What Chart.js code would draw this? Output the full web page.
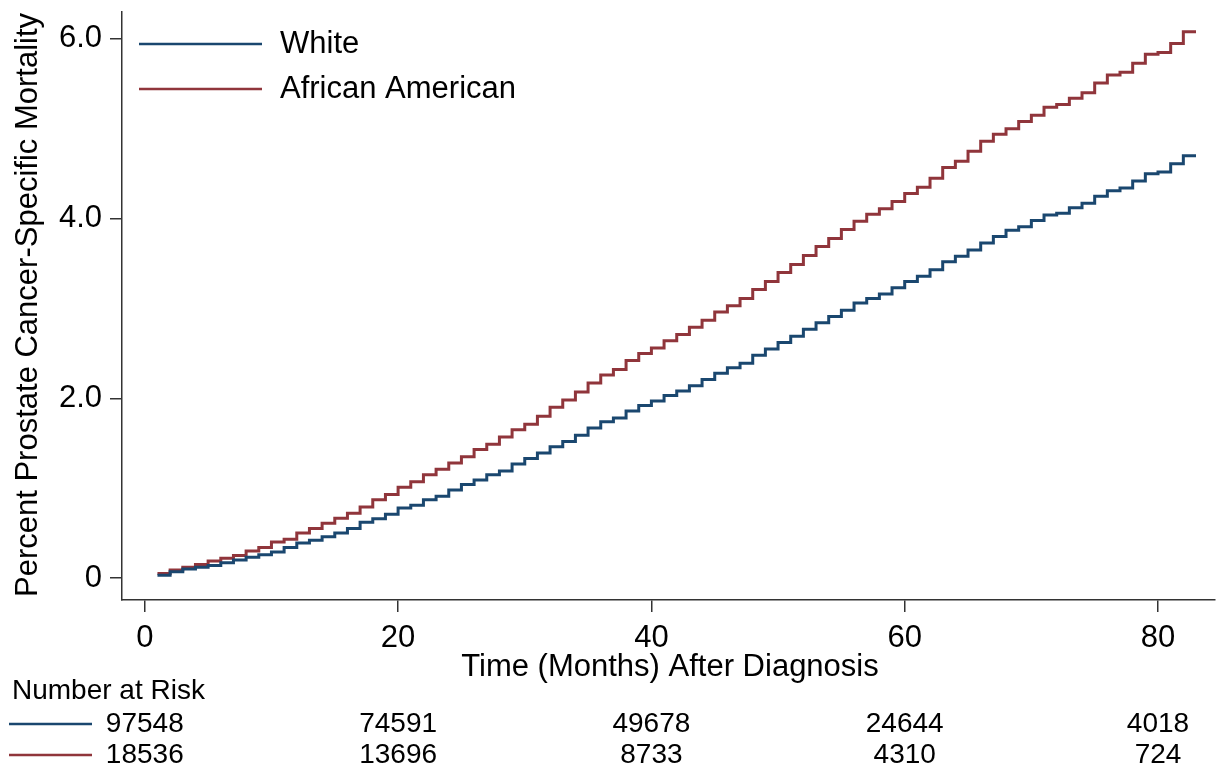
<!DOCTYPE html>
<html>
<head>
<meta charset="utf-8">
<script src="https://cdn.jsdelivr.net/npm/chart.js@4.4.1/dist/chart.umd.min.js"></script>
<style>
  html, body { margin: 0; padding: 0; background: #fff; }
  #wrap { width: 1222px; height: 775px; }
</style>
</head>
<body>
<div id="wrap"><canvas id="km" width="1222" height="775"></canvas></div>
<script>
// months after diagnosis (step times)
const months = [1, 2, 3, 4, 5, 6, 7, 8, 9, 10, 11, 12, 13, 14, 15, 16, 17, 18, 19, 20,
  21, 22, 23, 24, 25, 26, 27, 28, 29, 30, 31, 32, 33, 34, 35, 36, 37, 38, 39, 40,
  41, 42, 43, 44, 45, 46, 47, 48, 49, 50, 51, 52, 53, 54, 55, 56, 57, 58, 59, 60,
  61, 62, 63, 64, 65, 66, 67, 68, 69, 70, 71, 72, 73, 74, 75, 76, 77, 78, 79, 80,
  81, 82, 83];

// cumulative mortality (%)
const white = [0.03, 0.07, 0.10, 0.12, 0.14, 0.17, 0.20, 0.23, 0.26, 0.29, 0.34, 0.39, 0.42, 0.46, 0.50,
  0.55, 0.62, 0.66, 0.71, 0.78, 0.81, 0.87, 0.91, 0.98, 1.04, 1.09, 1.15, 1.19, 1.27, 1.33,
  1.39, 1.46, 1.52, 1.59, 1.67, 1.74, 1.78, 1.86, 1.92, 1.97, 2.03, 2.08, 2.14, 2.21, 2.28,
  2.34, 2.39, 2.48, 2.55, 2.62, 2.69, 2.77, 2.84, 2.91, 2.98, 3.06, 3.11, 3.16, 3.23, 3.30,
  3.36, 3.43, 3.52, 3.58, 3.65, 3.73, 3.80, 3.87, 3.91, 3.98, 4.04, 4.06, 4.12, 4.17, 4.25,
  4.31, 4.34, 4.42, 4.50, 4.52, 4.61, 4.70, 4.70];

const africanAmerican = [0.05, 0.09, 0.12, 0.15, 0.19, 0.22, 0.25, 0.30, 0.34, 0.40, 0.43, 0.50, 0.55, 0.61, 0.665,
  0.72, 0.79, 0.87, 0.93, 1.01, 1.07, 1.15, 1.21, 1.28, 1.35, 1.43, 1.49, 1.57, 1.65, 1.71,
  1.80, 1.90, 1.98, 2.07, 2.17, 2.26, 2.32, 2.42, 2.50, 2.56, 2.64, 2.71, 2.79, 2.87, 2.96,
  3.03, 3.11, 3.21, 3.30, 3.40, 3.49, 3.59, 3.69, 3.78, 3.88, 3.97, 4.05, 4.11, 4.19, 4.28,
  4.35, 4.45, 4.57, 4.64, 4.75, 4.86, 4.94, 5.00, 5.08, 5.15, 5.24, 5.27, 5.34, 5.40, 5.51,
  5.60, 5.63, 5.73, 5.83, 5.85, 5.95, 6.08, 6.08];

const xTicks = [0, 20, 40, 60, 80];
const yTicks = [0, 2, 4, 6];

// number at risk table
const riskTimes = [0, 20, 40, 60, 80];
const riskWhite = [97548, 74591, 49678, 24644, 4018];
const riskAfricanAmerican = [18536, 13696, 8733, 4310, 724];

const seriesNames = ['White', 'African American'];
const NAVY = '#1a476f';
const MAROON = '#90353b';
const AXIS = '#333';
const FONT = '"Liberation Sans", Arial, sans-serif';

const toPoints = (ys) => months.map((m, i) => ({ x: m, y: ys[i] }));

const extras = {
  id: 'extras',
  afterDraw(chart) {
    const ctx = chart.ctx;
    const xs = chart.scales.x;
    ctx.save();
    ctx.fillStyle = '#000';

    // y title
    ctx.font = '31px ' + FONT;
    ctx.textAlign = 'center';
    ctx.textBaseline = 'middle';
    ctx.save();
    ctx.translate(28, 305);
    ctx.rotate(-Math.PI / 2);
    ctx.fillText('Percent Prostate Cancer-Specific Mortality', 0, 0);
    ctx.restore();

    // x title
    ctx.fillText('Time (Months) After Diagnosis', 670, 667);

    // legend
    const legend = [[NAVY, seriesNames[0], 44], [MAROON, seriesNames[1], 89]];
    ctx.textAlign = 'left';
    legend.forEach(([col, txt, y]) => {
      ctx.strokeStyle = col;
      ctx.lineWidth = 2.5;
      ctx.beginPath();
      ctx.moveTo(139, y);
      ctx.lineTo(262, y);
      ctx.stroke();
      ctx.fillText(txt, 280, y);
    });

    // number at risk
    ctx.font = '28px ' + FONT;
    ctx.fillText('Number at Risk', 12, 691);
    const rows = [[NAVY, riskWhite, 724], [MAROON, riskAfricanAmerican, 755]];
    rows.forEach(([col, vals, y]) => {
      ctx.strokeStyle = col;
      ctx.lineWidth = 2.5;
      ctx.beginPath();
      ctx.moveTo(9, y);
      ctx.lineTo(92, y);
      ctx.stroke();
      ctx.textAlign = 'center';
      vals.forEach((v, i) => {
        ctx.fillText(String(v), xs.getPixelForValue(riskTimes[i]), y);
      });
      ctx.textAlign = 'left';
    });
    ctx.restore();
  }
};

new Chart(document.getElementById('km'), {
  type: 'line',
  data: {
    datasets: [
      {
        label: seriesNames[0],
        data: toPoints(white),
        borderColor: NAVY,
        borderWidth: 3,
        stepped: true,
        pointRadius: 0,
        fill: false,
      },
      {
        label: seriesNames[1],
        data: toPoints(africanAmerican),
        borderColor: MAROON,
        borderWidth: 3,
        stepped: true,
        pointRadius: 0,
        fill: false,
      },
    ],
  },
  options: {
    responsive: false,
    animation: false,
    layout: { padding: { top: 12, right: 7, left: 0, bottom: 0 } },
    plugins: { legend: { display: false }, tooltip: { enabled: false } },
    scales: {
      x: {
        type: 'linear',
        min: -1.8,
        max: 84.5,
        afterBuildTicks: (s) => { s.ticks = xTicks.map((v) => ({ value: v })); },
        afterFit: (s) => { s.height = 175; s.paddingLeft = 0; s.paddingRight = 0; },
        ticks: { font: { size: 31, family: FONT }, color: '#000', padding: 8, maxRotation: 0, autoSkip: false },
        grid: { drawOnChartArea: false, tickLength: 12, color: AXIS, lineWidth: 1.5 },
        border: { color: AXIS, width: 1.5 },
      },
      y: {
        min: -0.245,
        max: 6.3,
        afterBuildTicks: (s) => { s.ticks = yTicks.map((v) => ({ value: v })); },
        afterFit: (s) => { s.width = 122; s.paddingTop = 0; s.paddingBottom = 0; },
        ticks: {
          font: { size: 31, family: FONT },
          color: '#000',
          padding: 8,
          callback: (v) => (v === 0 ? '0' : v.toFixed(1)),
        },
        grid: { drawOnChartArea: false, tickLength: 12, color: AXIS, lineWidth: 1.5 },
        border: { color: AXIS, width: 1.5 },
      },
    },
  },
  plugins: [extras],
});
</script>
</body>
</html>
